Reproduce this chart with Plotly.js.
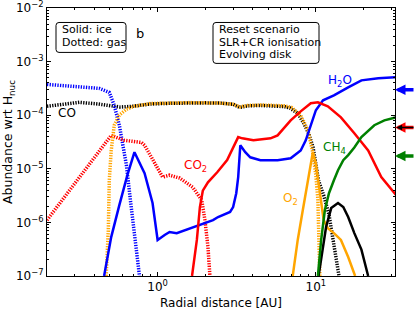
<!DOCTYPE html>
<html><head><meta charset="utf-8">
<script src="https://cdn.plot.ly/plotly-3.0.1.min.js"></script>
<style>body{margin:0;padding:0;background:#fff;} #chart{width:415px;height:310px;}</style>
</head><body><div id="chart"></div>
<script>
// ---- Gas phase (dotted) ----
const h2oGasX = [0.2,0.318,0.427,0.495,0.532,0.573,0.607,0.635,0.673,0.714,0.768];
const h2oGasY = [3.76e-4,3.45e-4,3.17e-4,2.67e-4,1.53e-4,6.5e-5,2.75e-5,1.17e-5,2.6e-6,5.8e-7,1e-7];

const coGasX = [0.2,0.26,0.32,0.42,0.53,0.58,0.7,0.9,1.2,1.6,2.0,2.5,3.0,3.3,3.7,4.5,5.5,6.3,6.9,7.7,8.4,9.0,9.6,10.4,11.2,12.1,13.0,14.0];
const coGasY = [1.47e-4,1.6e-4,1.74e-4,1.62e-4,1.45e-4,1.42e-4,1.47e-4,1.62e-4,1.67e-4,1.7e-4,1.7e-4,1.68e-4,1.6e-4,1.4e-4,1.5e-4,1.52e-4,1.5e-4,1.45e-4,1.35e-4,1.08e-4,7e-5,4.6e-5,2.5e-5,6e-6,3.2e-6,1.4e-6,3.8e-7,1e-7];

const o2GasX = [0.473,0.488,0.495,0.509,0.532,0.573,0.634,0.713,0.9,1.2,1.6,2.0,2.5,3.0,3.3,3.7,4.5,5.5,6.3,7.0,8.0,8.9,9.5,10.0,10.3,10.45,10.6];
const o2GasY = [1e-7,7.2e-7,6.1e-6,2.2e-5,6.5e-5,1.0e-4,1.29e-4,1.47e-4,1.65e-4,1.7e-4,1.72e-4,1.7e-4,1.68e-4,1.6e-4,1.42e-4,1.52e-4,1.55e-4,1.52e-4,1.5e-4,1.4e-4,1.0e-4,5.3e-5,2.2e-5,7.6e-6,2.6e-6,4.6e-7,1e-7];

const co2GasX = [0.2,0.31,0.385,0.509,0.616,0.791,0.827,0.957,1.076,1.19,1.38,1.67,1.9,1.99,2.08,2.14];
const co2GasY = [1.1e-6,6.1e-6,1.45e-5,4.2e-5,3.4e-5,3.1e-5,2.75e-5,1.27e-5,7.0e-6,7.6e-6,6.7e-6,4.5e-6,2.6e-6,1.1e-6,3.5e-7,1e-7];

// ---- Ice phase (solid) ----
const h2oIceX = [0.459,0.509,0.573,0.644,0.714,0.827,0.929,1.0,1.108,1.19,1.32,1.49,1.67,1.94,2.24,2.41,2.87,3.0,3.14,3.23,3.33,3.58,3.85,4.46,5.73,6.93,8.02,8.63,9.29,10.0,11.1,13.0,16.0,19.4,24.8,32];
const h2oIceY = [1e-7,5.3e-7,2.1e-6,7.6e-6,2.04e-5,8.3e-6,2.3e-6,4.7e-7,5.8e-7,6.6e-7,6.3e-7,7.2e-7,8.2e-7,9.7e-7,1.1e-6,1.26e-6,1.56e-6,1.93e-6,3.5e-6,7.0e-6,2.75e-5,2.04e-5,1.64e-5,1.45e-5,1.45e-5,1.57e-5,2.2e-5,3.4e-5,6.5e-5,1.24e-4,1.9e-4,2.35e-4,3.3e-4,4.47e-4,4.9e-4,5.1e-4];

const co2IceX = [1.65,1.77,1.85,1.93,2.08,2.38,2.75,3.23,3.43,4.03,5.17,5.73,6.93,8.02,9.29,10.3,11.9,14.4,17.5,21.4,25.9,32];
const co2IceY = [1e-7,4.7e-7,1.93e-6,3.9e-6,5.6e-6,8.6e-6,1.45e-5,3.9e-5,3.7e-5,3.4e-5,3.7e-5,4.2e-5,8.0e-5,1.18e-4,1.67e-4,1.74e-4,1.47e-4,9.1e-5,4.6e-5,2.2e-5,7.0e-6,3.3e-6];

const ch4IceX = [10.3,10.8,11.4,12.1,13.0,13.8,14.9,16.0,17.5,19.4,23.4,27.1,32];
const ch4IceY = [1e-7,4.7e-7,1.7e-6,3.5e-6,6.1e-6,9.4e-6,1.45e-5,1.8e-5,2.5e-5,3.9e-5,6.5e-5,8.0e-5,9.1e-5];

const o2IceX = [7.14,7.68,8.27,8.89,9.57,10.0,10.4,11.2,11.9,13.0,14.4,16.0,17.7];
const o2IceY = [1e-7,4.7e-7,1.7e-6,6.1e-6,2.04e-5,1.27e-5,5.4e-6,1.1e-6,7.8e-7,6.3e-7,4.7e-7,2.26e-7,1e-7];

const coIceX = [10.4,11.6,12.5,13.8,14.9,16.0,17.5,19.4,21.4];
const coIceY = [1e-7,8.2e-7,1.85e-6,2.3e-6,1.93e-6,1.26e-6,6.3e-7,3.1e-7,1e-7];

// reference (initial) abundances shown as arrows on the right axis
const arrowValues = [3.0e-4, 5.9e-5, 1.74e-5];
const arrowColors = ['#0000ff', '#ff0000', '#008000'];

// tick labels
const xTickVals = [1, 10];
const xTickText = ['10<sup>0</sup>', '10<sup>1</sup>'];
const yTickVals = [1e-7, 1e-6, 1e-5, 1e-4, 1e-3, 1e-2];
const yTickText = ['10<sup>\u22127</sup>','10<sup>\u22126</sup>','10<sup>\u22125</sup>','10<sup>\u22124</sup>','10<sup>\u22123</sup>','10<sup>\u22122</sup>'];

const speciesLabels = ['CO', 'CO<sub>2</sub>', 'H<sub>2</sub>O', 'CH<sub>4</sub>', 'O<sub>2</sub>'];
const styleBoxLines = ['Solid: ice', 'Dotted: gas'];
const scenarioBoxLines = ['Reset scenario', 'SLR+CR ionisation', 'Evolving disk'];

const FONT = 'DejaVu Sans, Liberation Sans, sans-serif';
const DOT = '1.3px,1.3px';

function gas(x, y, color) {
  return {x: x, y: y, type: 'scatter', mode: 'lines', hoverinfo: 'skip',
    line: {color: color, width: 3.5, dash: DOT}};
}
function ice(x, y, color) {
  return {x: x, y: y, type: 'scatter', mode: 'lines', hoverinfo: 'skip',
    line: {color: color, width: 2.5}};
}

const traces = [
  gas(coGasX, coGasY, '#000000'),
  gas(h2oGasX, h2oGasY, '#0000ff'),
  gas(co2GasX, co2GasY, '#ff0000'),
  gas(o2GasX, o2GasY, '#ffa500'),
  ice(h2oIceX, h2oIceY, '#0000ff'),
  ice(co2IceX, co2IceY, '#ff0000'),
  ice(o2IceX, o2IceY, '#ffa500'),
  ice(coIceX, coIceY, '#000000'),
  ice(ch4IceX, ch4IceY, '#008000')
];

const labelColors = ['#000000', '#ff0000', '#0000ff', '#008000', '#ffa500'];
const labelPos = [[0.267, 1.08e-4], [1.746, 1.12e-5], [14.2, 4.3e-4], [13.2, 2.4e-5], [6.93, 2.7e-6]];

const annotations = [];
speciesLabels.forEach((t, i) => {
  annotations.push({x: Math.log10(labelPos[i][0]), y: Math.log10(labelPos[i][1]), xref: 'x', yref: 'y',
    xanchor: 'center', yanchor: 'middle',
    text: t, showarrow: false, font: {family: FONT, size: 12, color: labelColors[i]}});
});

// plot area in px: x 47..395, y 7.5..276
const PX = v => (v - 47) / 348;
const PY = v => 1 - (v - 7.5) / 268.5;

function roundRect(x0, y0, x1, y1, r) {
  const X0 = PX(x0), X1 = PX(x1), Y0 = PY(y1), Y1 = PY(y0);
  const rx = r / 348, ry = r / 268.5;
  return 'M' + (X0 + rx) + ',' + Y1 + ' L' + (X1 - rx) + ',' + Y1 + ' Q' + X1 + ',' + Y1 + ' ' + X1 + ',' + (Y1 - ry) +
    ' L' + X1 + ',' + (Y0 + ry) + ' Q' + X1 + ',' + Y0 + ' ' + (X1 - rx) + ',' + Y0 +
    ' L' + (X0 + rx) + ',' + Y0 + ' Q' + X0 + ',' + Y0 + ' ' + X0 + ',' + (Y0 + ry) +
    ' L' + X0 + ',' + (Y1 - ry) + ' Q' + X0 + ',' + Y1 + ' ' + (X0 + rx) + ',' + Y1 + ' Z';
}

const shapes = [
  {type: 'path', xref: 'paper', yref: 'paper', path: roundRect(56, 22, 126, 52, 3),
   line: {color: '#000', width: 1}, fillcolor: '#fff', layer: 'above'},
  {type: 'path', xref: 'paper', yref: 'paper', path: roundRect(213, 22, 319, 63, 3),
   line: {color: '#000', width: 1}, fillcolor: '#fff', layer: 'above'}
];

const box1LineY = [29, 42];
styleBoxLines.forEach((t, i) => {
  annotations.push({xref: 'paper', yref: 'paper', x: PX(59.5), y: PY(box1LineY[i]), xanchor: 'left', yanchor: 'middle',
    text: t, showarrow: false, font: {family: FONT, size: 11, color: '#000'}});
});
const box2LineY = [29.5, 42, 54];
scenarioBoxLines.forEach((t, i) => {
  annotations.push({xref: 'paper', yref: 'paper', x: PX(216.5), y: PY(box2LineY[i]), xanchor: 'left', yanchor: 'middle',
    text: t, showarrow: false, font: {family: FONT, size: 11, color: '#000'}});
});
annotations.push({xref: 'paper', yref: 'paper', x: PX(140), y: PY(33), xanchor: 'center', yanchor: 'middle',
  text: 'b', showarrow: false, font: {family: FONT, size: 13, color: '#000'}});

arrowValues.forEach((v, i) => {
  annotations.push({xref: 'paper', yref: 'y', x: 1, y: Math.log10(v), ax: 22, ay: 0, text: '',
    showarrow: true, arrowhead: 2, arrowsize: 0.6, arrowwidth: 3.5, arrowcolor: arrowColors[i], standoff: 0});
});
// inner black arrow for the CO2 reference
annotations.push({xref: 'paper', yref: 'y', x: 1, y: Math.log10(arrowValues[1]), ax: 22, ay: 0, text: '',
  showarrow: true, arrowhead: 2, arrowsize: 0.8, arrowwidth: 1.4, arrowcolor: '#000000', standoff: 1.5});

const axisCommon = {
  type: 'log', showgrid: false, zeroline: false, showline: true, linecolor: '#000', linewidth: 1,
  mirror: 'allticks', ticks: 'inside', ticklen: 4, tickcolor: '#000', tickwidth: 1, automargin: false,
  ticklabeloverflow: 'allow',
  tickfont: {family: FONT, size: 12, color: '#000'},
  minor: {ticks: 'inside', ticklen: 2, tickcolor: '#000', dtick: 'D1', showgrid: false}
};

const layout = {
  width: 415, height: 310,
  margin: {l: 47, r: 20, t: 7.5, b: 34},
  paper_bgcolor: '#fff', plot_bgcolor: '#fff',
  showlegend: false,
  font: {family: FONT, color: '#000'},
  xaxis: Object.assign({}, axisCommon, {
    range: [Math.log10(0.2), 1.5], tickmode: 'array', tickvals: xTickVals, ticktext: xTickText,
    title: {text: 'Radial distance [AU]', font: {family: FONT, size: 12, color: '#000'}}
  }),
  yaxis: Object.assign({}, axisCommon, {
    range: [-7.001, -1.999], tickmode: 'array', tickvals: yTickVals, ticktext: yTickText,
    title: {text: 'Abundance wrt H<sub>nuc</sub>', font: {family: FONT, size: 12.5, color: '#000'}}
  }),
  shapes: shapes,
  annotations: annotations
};

Plotly.newPlot('chart', traces, layout, {staticPlot: true, displayModeBar: false});
</script>
</body></html>
